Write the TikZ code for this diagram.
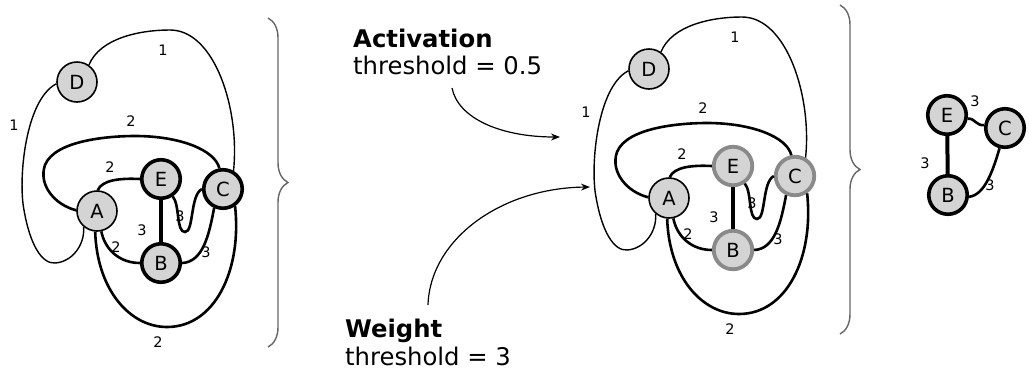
\documentclass[tikz,border=0pt]{standalone}
\usepackage{fontspec}
\setmainfont{DejaVu Sans}
\usetikzlibrary{decorations.pathreplacing,arrows.meta}
\definecolor{nodegray}{HTML}{D4D4D4}
\definecolor{ringgray}{HTML}{8A8A8A}
\definecolor{bracegray}{HTML}{666666}
\begin{document}
\begin{tikzpicture}[x=1pt,y=-1pt,
  vtx/.style={circle,draw=black,fill=nodegray,line width=1.6pt,minimum size=40pt,inner sep=0pt,font=\fontsize{19.5}{21}\selectfont},
  heavyL/.style={vtx,line width=3.6pt,minimum size=38.5pt},
  heavyM/.style={vtx,draw=ringgray,line width=3.8pt,minimum size=38.5pt},
  w1/.style={line width=1.4pt},
  w2/.style={line width=2.6pt},
  w3/.style={line width=4pt},
  wlab/.style={font=\fontsize{14.5}{16}\selectfont,inner sep=0pt},
  brc/.style={decorate,decoration={brace,amplitude=20pt},draw=bracegray,line width=1.4pt},
  capt/.style={font=\fontsize{24.3}{27}\selectfont,anchor=base west,inner sep=0pt},
  captb/.style={capt,font=\fontsize{24.3}{27}\selectfont\bfseries},
  pointer/.style={line width=1.2pt,-{Stealth[length=9pt,width=7pt]}}
]
\useasboundingbox (0,0) rectangle (1029,376);

\foreach \dx/\dy/\p/\hv in {0/0/L/heavyL,572/-13/M/heavyM}{
\begin{scope}[shift={(\dx,\dy)}]
  \node[vtx] (\p D) at (77,82) {D};
  \node[\hv] (\p E) at (161,179) {E};
  \node[\hv] (\p C) at (223,189) {C};
  \node[vtx] (\p A) at (97,211) {A};
  \node[\hv] (\p B) at (161,263) {B};
  % weight labels
  \node[wlab] (\p l1) at (163,50) {1};
  \node[wlab] (\p l2) at (14,125) {1};
  \node[wlab] (\p l3) at (131,121) {2};
  \node[wlab] (\p l4) at (110,167) {2};
  \node[wlab] (\p l5) at (142,230) {3};
  \node[wlab] (\p l6) at (180,216) {3};
  \node[wlab] (\p l7) at (116,247) {2};
  \node[wlab] (\p l8) at (206,252) {3};
  \node[wlab] (\p l9) at (158,342) {2};
  % edges
  \draw[w1] (\p D.55) .. controls (100,38) and (140,30) .. (170,30)
            .. controls (215,30) and (240,110) .. (\p C.60);
  \draw[w1] (\p D.185) .. controls (25,100) and (18,180) .. (24,210)
            .. controls (30,245) and (42,264) .. (55,263)
            .. controls (72,262) and (85,245) .. (\p A.230);
  \draw[w2] (\p A.178) .. controls (55,205) and (38,185) .. (45,165)
            .. controls (55,140) and (110,136) .. (135,136)
            .. controls (180,136) and (215,150) .. (\p C.100);
  \draw[w2] (\p A.88) .. controls (102,180) and (120,178) .. (\p E.180);
  \draw[w3] (\p E) -- (\p B);
  \draw[w2] (\p E.-56) .. controls (180,205) and (176,232) .. (185,232)
            .. controls (194,232) and (190,195) .. (\p C.180);
  \draw[w2] (\p A.-78) .. controls (105,250) and (120,263) .. (\p B.180);
  \draw[w2] (\p B.0) .. controls (203,262) and (209,235) .. (\p C.-115);
  \draw[w2] (\p A.-95) .. controls (97,290) and (130,327) .. (167,327)
            .. controls (215,327) and (242,270) .. (\p C.-55);
\end{scope}
}

% braces
\coordinate (b1t) at (268,18);
\coordinate (b1b) at (268,347);
\draw[brc] (b1t) -- (b1b);
\coordinate (b2t) at (840,5);
\coordinate (b2b) at (840,334);
\draw[brc] (b2t) -- (b2b);

% right graph
\node[heavyL] (RE) at (947,115) {E};
\node[heavyL] (RC) at (1005,128) {C};
\node[heavyL] (RB) at (948,195) {B};
\node[wlab] (Rl1) at (925,163) {3};
\node[wlab] (Rl2) at (975,101) {3};
\node[wlab] (Rl3) at (990,185) {3};
\draw[w3] (RE) -- (RB);
\draw[w2] (RE.-10) .. controls (975,118) and (976,126) .. (RC.172);
\draw[w2] (RB.-5) .. controls (985,195) and (993,170) .. (RC.-105);

% captions
\node[captb] (actT) at (353,47) {Activation};
\node[capt] (actS) at (353,74) {threshold = 0.5};
\node[captb] (wT) at (345,337) {Weight};
\node[capt] (wS) at (345,365) {threshold = 3};

% pointers
\coordinate (actStart) at (452,88);
\coordinate (actEnd) at (560,137);
\draw[pointer] (actStart) .. controls (458,118) and (500,137) .. (actEnd);
\coordinate (wStart) at (428,305);
\coordinate (wEnd) at (590,187);
\draw[pointer] (wStart) .. controls (430,240) and (500,188) .. (wEnd);
\end{tikzpicture}
\end{document}
